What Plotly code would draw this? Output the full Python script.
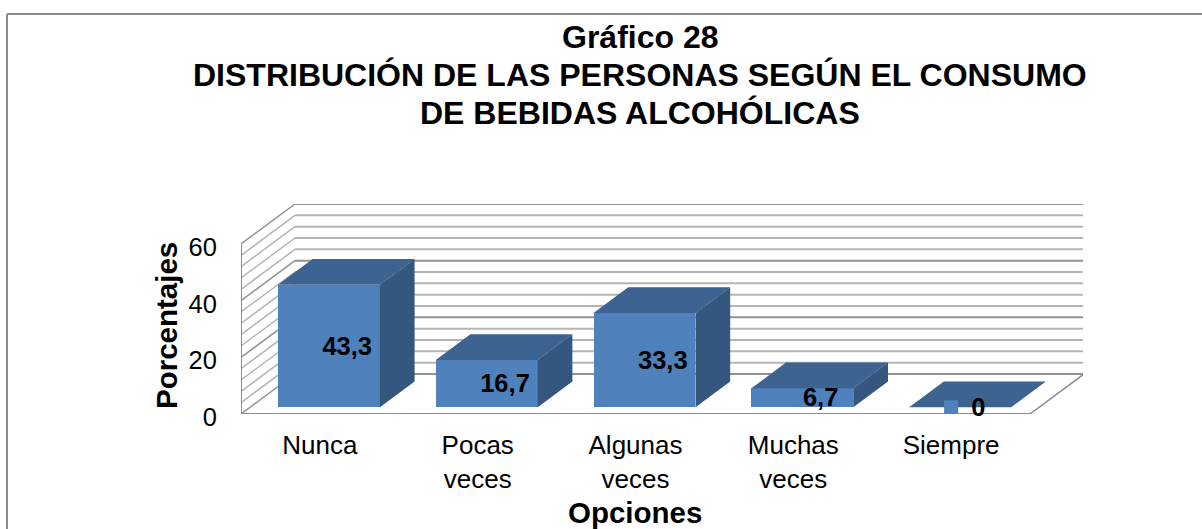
import plotly.graph_objects as go

# ---- data ----
categories = ["Nunca", "Pocas<br>veces", "Algunas<br>veces", "Muchas<br>veces", "Siempre"]
values = [43.3, 16.7, 33.3, 6.7, 0]
value_labels = ["43,3", "16,7", "33,3", "6,7", "0"]
major_ticks = [0, 20, 40, 60]
minor_step = 4
y_max = 60

title_lines = ["Gráfico 28", "DISTRIBUCIÓN DE LAS PERSONAS SEGÚN EL CONSUMO", "DE BEBIDAS ALCOHÓLICAS"]
x_title = "Opciones"
y_title = "Porcentajes"

# ---- oblique projection (in axis units) ----
DX = 0.342      # full depth of the floor, in category widths
DY = 14.12      # full depth of the floor, in value units
D0, D1 = 0.167, 0.81   # depth span of the bars
BAR_W = 0.646
FONT = "Liberation Sans"

FRONT = "#4F81BD"
TOP = "#3D6391"
SIDE = "#34567F"
GRID = "#B4B4B4"
GRID_MAJOR = "#929292"
EDGE = "#8C8C8C"

# plot-area box, in page pixels
W, H = 1202, 529
PL, PR, PT, PB = 241, 1083, 204, 414
def px(x): return (x - PL) / (PR - PL)
def py(y): return (PB - y) / (PB - PT)

def proj(x, y, d):
    return x + d * DX, y + d * DY

n = len(categories)
xs = list(range(n))
x_left, x_right = -0.5, n - 0.5

fig = go.Figure()

# front faces
fig.add_trace(go.Bar(
    x=[i + D0 * DX for i in xs], y=values, base=[D0 * DY] * n, width=BAR_W,
    marker=dict(color=FRONT, line=dict(width=0)), showlegend=False, hoverinfo="skip",
))

# top and side faces
for i, v in zip(xs, values):
    l, r = i - BAR_W / 2, i + BAR_W / 2
    pts = [proj(l, v, D0), proj(r, v, D0), proj(r, v, D1), proj(l, v, D1), proj(l, v, D0)]
    fig.add_trace(go.Scatter(x=[p[0] for p in pts], y=[p[1] for p in pts], mode="lines", fill="toself",
                             fillcolor=TOP, line=dict(width=0), showlegend=False, hoverinfo="skip"))
    if v > 0:
        pts = [proj(r, 0, D0), proj(r, 0, D1), proj(r, v, D1), proj(r, v, D0), proj(r, 0, D0)]
        fig.add_trace(go.Scatter(x=[p[0] for p in pts], y=[p[1] for p in pts], mode="lines", fill="toself",
                                 fillcolor=SIDE, line=dict(width=0), showlegend=False, hoverinfo="skip"))

# walls and floor
shapes = []
def seg(p, q, color, width):
    shapes.append(dict(type="line", xref="x", yref="y", layer="below",
                       x0=p[0], y0=p[1], x1=q[0], y1=q[1], line=dict(color=color, width=width)))

for t in range(0, y_max + 1, minor_step):
    major = t % 20 == 0
    c = GRID_MAJOR if major else GRID
    seg(proj(x_left, t, 0), proj(x_left, t, 1), c, 1.5)
    seg(proj(x_left, t, 1), proj(x_right, t, 1), c, 2)
seg(proj(x_right, 0, 0), proj(x_right, 0, 1), EDGE, 1.5)
seg(proj(x_left, 0, 0), proj(x_right, 0, 0), EDGE, 2)
seg(proj(x_left, 0, 0), proj(x_left, y_max, 0), EDGE, 2)

# border of the chart area: top and left edges are all that the frame shows
for x0, y0, x1, y1 in [(7, 14, W, 14), (7, 14, 7, H)]:
    shapes.append(dict(type="line", xref="paper", yref="paper", layer="below",
                       x0=px(x0), x1=px(x1), y0=py(y0), y1=py(y1), line=dict(color="#8C8C8C", width=2)))

# data labels
fig.add_trace(go.Scatter(
    x=[i + (D0 + D1) / 2 * DX + 0.006 for i in xs],
    y=[v / 2 + D0 * DY - 0.8 for v in values],
    mode="text", text=value_labels, textposition="middle center",
    textfont=dict(family=FONT, size=25.5, color="#000000", weight="bold"),
    showlegend=False, hoverinfo="skip", cliponaxis=False,
))

# legend key shown beside the zero label
fig.add_trace(go.Scatter(
    x=[xs[-1]], y=[values[-1] + D0 * DY], mode="markers",
    marker=dict(symbol="square", size=14, color=FRONT, line=dict(width=0)),
    showlegend=False, hoverinfo="skip",
))

annotations = [
    dict(text=x_title, xref="paper", yref="paper", x=px(635), y=py(512), xanchor="center", yanchor="middle",
         showarrow=False, font=dict(family=FONT, size=29.5, weight="bold")),
    dict(text=y_title, xref="paper", yref="paper", x=px(166), y=py(326), xanchor="center", yanchor="middle",
         textangle=-90, showarrow=False, font=dict(family=FONT, size=29.5, weight="bold")),
]
for line, y in zip(title_lines, [37, 75, 113]):
    annotations.append(dict(text=line, xref="paper", yref="paper", x=px(640), y=py(y), xanchor="center",
                            yanchor="middle", showarrow=False,
                            font=dict(family=FONT, size=32, color="#000000", weight="bold")))

fig.update_layout(
    width=W, height=H, autosize=False,
    margin=dict(l=PL, r=W - PR, t=PT, b=H - PB),
    paper_bgcolor="#FFFFFF", plot_bgcolor="rgba(0,0,0,0)",
    bargap=0, showlegend=False, shapes=shapes, annotations=annotations,
    font=dict(family=FONT, color="#000000", size=25),
    xaxis=dict(range=[x_left, x_left + (PR - PL) / 157.8], tickmode="array", tickvals=xs, ticktext=categories,
               showgrid=False, zeroline=False, showline=False, ticks="outside", ticklen=8,
               tickcolor="rgba(0,0,0,0)", tickfont=dict(family=FONT, size=26)),
    yaxis=dict(range=[0, y_max + DY], tickmode="array", tickvals=major_ticks,
               showgrid=False, zeroline=False, showline=False, ticks="outside", ticklen=18,
               ticklabelshift=3,
               tickcolor="rgba(0,0,0,0)", tickfont=dict(family=FONT, size=25.5)),
)

fig.write_html("out.html", config=dict(displayModeBar=False),
               post_script="document.body.style.margin='0';document.body.style.overflow='hidden';")
